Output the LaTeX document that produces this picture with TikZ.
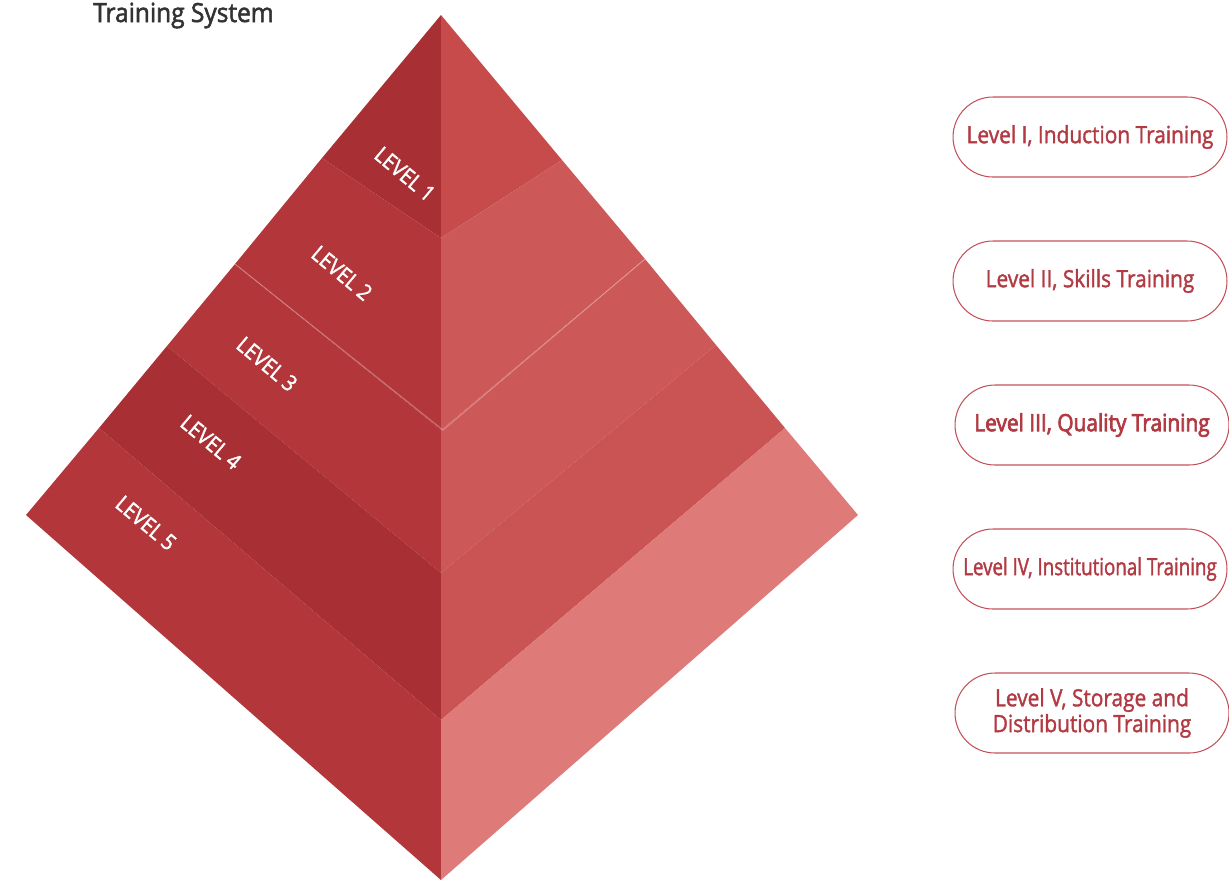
\documentclass[tikz,border=0pt]{standalone}
\usepackage{fontspec}
\setmainfont{Open Sans}
\newfontfamily\pillfont[FakeStretch=0.88,FakeBold=1.5]{Open Sans}
\newfontfamily\pillfontbold[FakeStretch=0.88,FakeBold=3]{Open Sans}
\newfontfamily\pillfontnarrow[FakeStretch=0.79,FakeBold=1.5]{Open Sans}
\newfontfamily\levelfont[FakeStretch=0.9,FakeBold=1.5]{Open Sans}
\newfontfamily\titlefont[FakeStretch=0.93,FakeBold=2]{Open Sans}

\definecolor{leftdark}{HTML}{A83034}
\definecolor{leftmid}{HTML}{B3373A}
\definecolor{rightone}{HTML}{C84B4C}
\definecolor{rightmid}{HTML}{CD5858}
\definecolor{rightfour}{HTML}{CA5353}
\definecolor{rightlow}{HTML}{DE7A78}
\definecolor{pillred}{HTML}{C5505A}
\definecolor{pilltext}{HTML}{B23A43}
\definecolor{titlegray}{HTML}{333333}

\tikzset{
  levelpill/.style={draw=pillred, line width=0.6pt, rounded corners=0.8cm,
    minimum width=5.48cm, minimum height=1.6cm, inner sep=0pt,
    text=pilltext, align=center},
  leveltag/.style={text=white, rotate=-40, inner sep=0pt,
    font=\levelfont\fontsize{12.5}{14}\selectfont}
}

\begin{document}
\begin{tikzpicture}[x=0.02cm,y=-0.02cm]
\useasboundingbox (0,0) rectangle (1229,880);

\node[anchor=base west,text=titlegray,font=\titlefont\fontsize{15}{17}\selectfont] (title) at (87,22) {Training System};

% left face
\fill[leftdark] (441,15) -- (322,158) -- (441,238) -- cycle;
\fill[leftmid] (322,158) -- (235,264) -- (441,430) -- (441,238) -- cycle;
\fill[leftmid] (235,264) -- (167,346) -- (441,573) -- (441,430) -- cycle;
\fill[leftdark] (167,346) -- (99,428) -- (441,720) -- (441,573) -- cycle;
\fill[leftmid] (99,428) -- (26,515) -- (441,880) -- (441,720) -- cycle;

% right face
\fill[rightone] (441,15) -- (562,160) -- (441,238) -- cycle;
\fill[rightmid] (562,160) -- (645,259) -- (441,430) -- (441,238) -- cycle;
\fill[rightmid] (645,259) -- (716,345) -- (441,573) -- (441,430) -- cycle;
\fill[rightfour] (716,345) -- (785,428) -- (441,720) -- (441,573) -- cycle;
\fill[rightlow] (785,428) -- (858,515) -- (441,880) -- (441,720) -- cycle;

\draw[white,opacity=0.3,line width=0.6pt] (235,264) -- (443,430) -- (645,259);

\node[leveltag] (tag1) at (405,174) {LEVEL 1};
\node[leveltag] (tag2) at (342,273) {LEVEL 2};
\node[leveltag] (tag3) at (267,364) {LEVEL 3};
\node[leveltag] (tag4) at (211,442) {LEVEL 4};
\node[leveltag] (tag5) at (146,523) {LEVEL 5};

% training levels
\node[levelpill,font=\pillfont\fontsize{13.5}{15}\selectfont] (pill1) at (1090,137) {Level I, Induction Training};
\node[levelpill,font=\pillfont\fontsize{13.5}{15}\selectfont] (pill2) at (1090,281) {Level II, Skills Training};
\node[levelpill,font=\pillfontbold\fontsize{13.5}{15}\selectfont] (pill3) at (1092,425) {Level III, Quality Training};
\node[levelpill,font=\pillfontnarrow\fontsize{13.5}{15}\selectfont] (pill4) at (1090,569) {Level IV, Institutional Training};
\node[levelpill,font=\pillfont\fontsize{13.5}{14.7}\selectfont] (pill5) at (1092,713) {Level V, Storage and\\Distribution Training};

\end{tikzpicture}
\end{document}
